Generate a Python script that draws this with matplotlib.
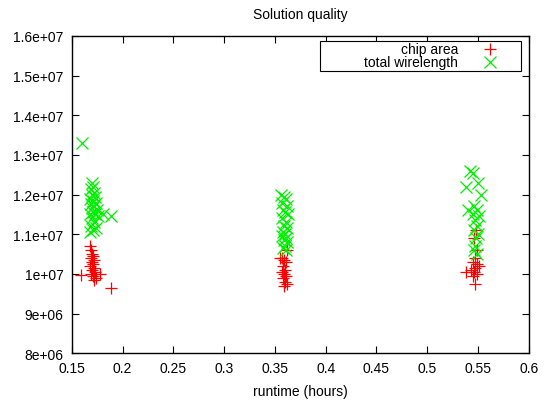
# solution quality vs runtime, gnuplot-like scatter
import numpy as np
import matplotlib.pyplot as plt
from matplotlib.patches import Rectangle
from matplotlib.ticker import FuncFormatter, MultipleLocator

plt.rcParams['font.family'] = ['Liberation Sans', 'DejaVu Sans']

# chip area (millions)
area_x = [0.1595, 0.168, 0.169, 0.170, 0.171, 0.169, 0.172, 0.170, 0.171, 0.168, 0.172, 0.170,
          0.173, 0.169, 0.171, 0.174, 0.172, 0.178, 0.189,
          0.362, 0.355, 0.357, 0.359, 0.361, 0.358, 0.360, 0.357, 0.359, 0.361, 0.358, 0.360,
          0.362, 0.359,
          0.548, 0.546, 0.549, 0.547, 0.545, 0.549, 0.551, 0.547, 0.543, 0.538, 0.546, 0.549,
          0.545, 0.547]
area_y = [9.97, 10.7, 10.6, 10.5, 10.45, 10.4, 10.35, 10.3, 10.25, 10.2, 10.15, 10.1,
          10.05, 10.0, 9.95, 9.9, 9.85, 10.0, 9.65,
          10.6, 10.4, 10.4, 10.35, 10.3, 10.2, 10.1, 10.05, 10.0, 9.95, 9.9, 9.8,
          9.75, 9.7,
          11.1, 10.9, 10.6, 10.4, 10.3, 10.25, 10.2, 10.15, 10.1, 10.05, 10.05, 10.0,
          9.95, 9.75]

# total wirelength (millions)
wire_x = [0.160, 0.170, 0.171, 0.169, 0.172, 0.170, 0.173, 0.168, 0.171, 0.174, 0.169, 0.172,
          0.170, 0.175, 0.171, 0.168, 0.173, 0.176, 0.181, 0.189, 0.170, 0.172, 0.169, 0.174,
          0.171, 0.168,
          0.356, 0.359, 0.361, 0.357, 0.362, 0.358, 0.360, 0.363, 0.357, 0.361, 0.359, 0.362,
          0.358, 0.360, 0.357, 0.361, 0.359, 0.362, 0.360, 0.358, 0.361,
          0.542, 0.545, 0.550, 0.538, 0.553, 0.540, 0.546, 0.549, 0.545, 0.551, 0.547, 0.549,
          0.546, 0.550, 0.548, 0.546, 0.549, 0.547]
wire_y = [13.3, 12.3, 12.2, 12.15, 12.05, 12.0, 11.95, 11.9, 11.85, 11.8, 11.75, 11.7,
          11.65, 11.6, 11.55, 11.5, 11.5, 11.45, 11.5, 11.45, 11.4, 11.3, 11.2, 11.15,
          11.1, 11.05,
          12.0, 11.95, 11.9, 11.8, 11.7, 11.6, 11.55, 11.5, 11.4, 11.3, 11.2, 11.15,
          11.05, 11.0, 10.95, 10.9, 10.85, 10.8, 10.7, 10.65, 10.6,
          12.6, 12.55, 12.3, 12.2, 12.0, 11.6, 11.7, 11.6, 11.5, 11.45, 11.35, 11.2,
          11.1, 11.0, 10.9, 10.6, 10.5, 10.7]

series = [('chip area', '+', '#ff0000', area_x, area_y),
          ('total wirelength', 'x', '#00ee00', wire_x, wire_y)]

fig = plt.figure(figsize=(5.44, 4.02), dpi=100)
ax = fig.add_axes([0.132, 0.119, 0.840, 0.789])

for label, m, c, xs, ys in series:
    ax.plot(xs, np.array(ys) * 1e6, m, color=c, ms=8.5, mew=0.9)

ax.set_xlim(0.15, 0.6)
ax.set_ylim(8e6, 1.6e7)
ax.xaxis.set_major_locator(MultipleLocator(0.05))
ax.yaxis.set_major_locator(MultipleLocator(1e6))
fmt = FuncFormatter(lambda v, p: '%g' % round(v, 10))
ax.xaxis.set_major_formatter(fmt)
ax.yaxis.set_major_formatter(fmt)
ax.tick_params(direction='in', length=5, width=0.8, top=True, right=True,
               labelsize=10, pad=6)
for s in ax.spines.values():
    s.set_linewidth(1.0)

ax.set_title('Solution quality', fontsize=10, pad=13)
ax.set_xlabel('runtime (hours)', fontsize=10, labelpad=6)

# gnuplot style key box
ax.add_patch(Rectangle((0.543, 0.890), 0.439, 0.094, transform=ax.transAxes,
                       fill=True, facecolor='white', edgecolor='black', lw=0.8, zorder=5))
for (label, m, c, xs, ys), yk in zip(series, [0.959, 0.918]):
    ax.text(0.845, yk, label, transform=ax.transAxes, ha='right', va='center',
            fontsize=10, zorder=6)
    ax.plot([0.915], [yk], m, color=c, ms=8.5, mew=0.9, transform=ax.transAxes,
            zorder=6, clip_on=False)

fig.savefig('out.png', dpi=100)
